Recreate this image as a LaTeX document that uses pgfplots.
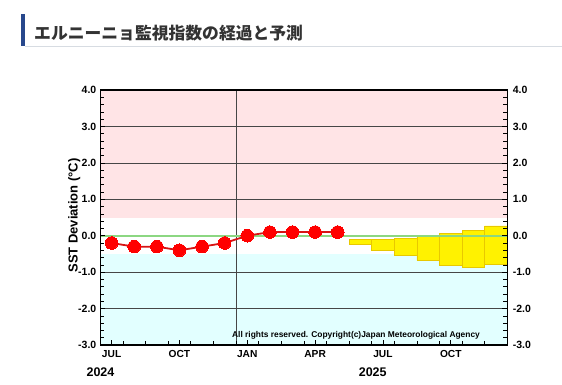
\documentclass[border=0pt]{standalone}
\usepackage{pgfplots}
\pgfplotsset{compat=1.18}
\usepackage{fontspec}
\setmainfont{Liberation Sans}
\newfontfamily\cjk{Noto Sans CJK JP}
\definecolor{bandpink}{RGB}{255,228,230}
\definecolor{bandcyan}{RGB}{226,255,255}
\definecolor{zerogreen}{RGB}{140,215,130}
\definecolor{fyellow}{RGB}{255,242,0}
\definecolor{fedge}{RGB}{232,200,0}
\definecolor{gridgray}{RGB}{70,70,70}
\definecolor{titleblue}{RGB}{40,72,140}
\definecolor{titlegray}{RGB}{51,51,51}
\definecolor{rulegray}{RGB}{215,220,226}
\definecolor{obsred}{RGB}{255,0,0}
\definecolor{linered}{RGB}{215,20,20}
\pgfplotstableread{
x y
0 -0.2
1 -0.3
2 -0.3
3 -0.4
4 -0.3
5 -0.2
6 0.0
7 0.1
8 0.1
9 0.1
10 0.1
}\obs
\begin{document}
\begin{tikzpicture}
\useasboundingbox (0pt,0pt) rectangle (562pt,384pt);
% title
\fill[titleblue] (21pt,338pt) rectangle (25pt,370pt);
\fill[rulegray] (25pt,337pt) rectangle (562pt,338pt);
\node[anchor=west,inner sep=0pt,text=titlegray,font=\cjk\bfseries\fontsize{16.8}{18}\selectfont] at (34pt,351pt) {エルニーニョ監視指数の経過と予測};
\begin{axis}[
  at={(100.3pt,39pt)}, anchor=south west,
  scale only axis, width=407pt, height=255pt,
  xmin=-0.5, xmax=17.5, ymin=-3, ymax=4,
  axis on top,
  axis line style={black, line width=1.2pt},
  /pgf/number format/assume math mode=true,
  yticklabel style={font=\fontsize{10.5}{12}\selectfont\bfseries, xshift=-0.5pt},
  xticklabel style={font=\fontsize{10.2}{12}\selectfont\bfseries, yshift=-2pt},
  ytick={-3,-2,...,4},
  yticklabel={\pgfmathprintnumber[fixed,fixed zerofill,precision=1]{\tick}},
  minor y tick num=4,
  ytick pos=both, yticklabel pos=left,
  tick align=inside,
  major tick length=5pt, minor tick length=4pt,
  tick style={black, line width=0.6pt},
  xtick={0,3,6,9,12,15},
  xticklabels={JUL,OCT,JAN,APR,JUL,OCT},
  xtick pos=bottom,
  minor xtick={0.5,1.5,...,16.5},
]
\fill[bandpink] (axis cs:-0.5,0.5) rectangle (axis cs:17.5,4);
\fill[bandcyan] (axis cs:-0.5,-3) rectangle (axis cs:17.5,-0.5);
\draw[gridgray, line width=0.6pt] (axis cs:-0.5,3) -- (axis cs:17.5,3);
\draw[gridgray, line width=0.6pt] (axis cs:-0.5,2) -- (axis cs:17.5,2);
\draw[gridgray, line width=0.6pt] (axis cs:-0.5,1) -- (axis cs:17.5,1);
\draw[gridgray, line width=0.6pt] (axis cs:-0.5,-1) -- (axis cs:17.5,-1);
\draw[gridgray, line width=0.6pt] (axis cs:-0.5,-2) -- (axis cs:17.5,-2);
\draw[gridgray, line width=0.6pt] (axis cs:5.5,-3) -- (axis cs:5.5,4);
% forecast boxes
\addplot[fill=fyellow, draw=fedge, line width=0.7pt] coordinates {(10.5,-0.11) (11.5,-0.11) (11.5,-0.25) (10.5,-0.25) (10.5,-0.11)};
\addplot[fill=fyellow, draw=fedge, line width=0.7pt] coordinates {(11.5,-0.11) (12.5,-0.11) (12.5,-0.39) (11.5,-0.39) (11.5,-0.11)};
\addplot[fill=fyellow, draw=fedge, line width=0.7pt] coordinates {(12.5,-0.07) (13.5,-0.07) (13.5,-0.53) (12.5,-0.53) (12.5,-0.07)};
\addplot[fill=fyellow, draw=fedge, line width=0.7pt] coordinates {(13.5,-0.03) (14.5,-0.03) (14.5,-0.68) (13.5,-0.68) (13.5,-0.03)};
\addplot[fill=fyellow, draw=fedge, line width=0.7pt] coordinates {(14.5,0.07) (15.5,0.07) (15.5,-0.80) (14.5,-0.80) (14.5,0.07)};
\addplot[fill=fyellow, draw=fedge, line width=0.7pt] coordinates {(15.5,0.15) (16.5,0.15) (16.5,-0.87) (15.5,-0.87) (15.5,0.15)};
\addplot[fill=fyellow, draw=fedge, line width=0.7pt] coordinates {(16.5,0.27) (17.5,0.27) (17.5,-0.79) (16.5,-0.79) (16.5,0.27)};
% zero line
\draw[zerogreen, line width=2pt] (axis cs:-0.5,0) -- (axis cs:17.5,0);
% observations
\addplot[linered, line width=1.8pt, mark=*, mark size=6.3pt, mark options={fill=obsred, draw=obsred, line width=0pt}] table[x=x,y=y] {\obs};
\end{axis}
\begin{axis}[
  at={(100.3pt,39pt)}, anchor=south west,
  scale only axis, width=407pt, height=255pt,
  xmin=-0.5, xmax=17.5, ymin=-3, ymax=4,
  hide x axis,
  axis y line*=right,
  axis line style={draw=none},
  /pgf/number format/assume math mode=true,
  yticklabel style={font=\fontsize{10.5}{12}\selectfont\bfseries, xshift=2pt},
  ytick={-3,-2,...,4},
  yticklabel={\pgfmathprintnumber[fixed,fixed zerofill,precision=1]{\tick}},
  major tick length=0pt,
]
\addplot[draw=none] coordinates {(0,0) (1,1)};
\end{axis}
% labels
\node[rotate=90,anchor=base,inner sep=0pt,font=\fontsize{13}{15}\selectfont\bfseries] at (77.7pt,168.5pt) {SST Deviation (°C)};
\node[anchor=base,inner sep=0pt,font=\fontsize{12.5}{14}\selectfont\bfseries] at (100.5pt,7.3pt) {2024};
\node[anchor=base,inner sep=0pt,font=\fontsize{12.5}{14}\selectfont\bfseries] at (372.7pt,7.3pt) {2025};
\node[anchor=base,inner sep=0pt,font=\fontsize{8.4}{10}\selectfont\bfseries] at (356pt,46.5pt) {All rights reserved. Copyright(c)Japan Meteorological Agency};
\end{tikzpicture}
\end{document}
